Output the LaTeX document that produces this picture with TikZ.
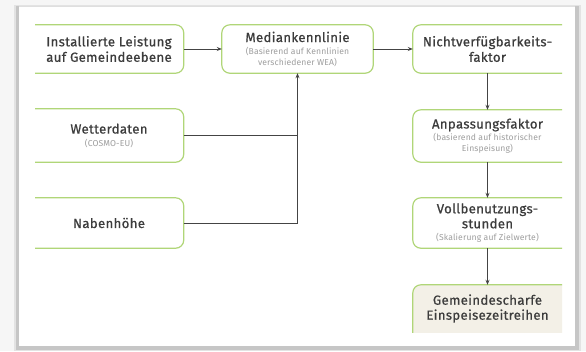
\documentclass[tikz,border=0pt]{standalone}
\usepackage{fontspec}
\setmainfont{Fira Sans}[LetterSpace=2.5, UprightFeatures={FakeBold=0.7}]
\newfontfamily\subfont{Fira Sans}[LetterSpace=1.5]
\usetikzlibrary{arrows.meta,calc}

\definecolor{boxgreen}{RGB}{176,214,120}
\definecolor{titletext}{RGB}{60,60,60}
\definecolor{subtext}{RGB}{158,158,158}
\definecolor{linkgray}{RGB}{68,68,68}
\definecolor{resultfill}{RGB}{243,240,231}

\newcommand\subline[1]{{\subfont\fontsize{8.6}{9}\selectfont\color{subtext}#1}}

\tikzset{
  flowbox/.style={rectangle, draw=none, inner sep=0pt, align=center,
    minimum width=149pt, text=titletext,
    font=\fontsize{13.2}{15.5}\selectfont},
  boxedge/.style={draw=boxgreen, line width=1.2pt, rounded corners=8pt},
  link/.style={draw=linkgray, line width=0.9pt,
    -{Stealth[length=5pt,width=4pt]}},
  plainlink/.style={draw=linkgray, line width=0.9pt},
}

\begin{document}
\begin{tikzpicture}[x=1pt,y=-1pt]
  \useasboundingbox (0,0) rectangle (586,351);

  % page background and framed panel with soft shadow
  \fill[gray!7] (0,0) rectangle (586,351);
  \fill[gray!22] (14,5) rectangle (581,351);
  \fill[gray!45] (16,6) rectangle (579,350);
  \fill[white] (19,6) rectangle (575,346);
  \draw[gray!25, line width=0.6pt] (19,6) -- (575,6);

  % left column
  \node[flowbox, minimum height=48pt] (inst) at (109,49)
    {Installierte Leistung\\auf Gemeindeebene};
  \node[flowbox, minimum height=53pt] (wetter) at (109,135.5)
    {Wetterdaten\\[-3pt]\subline{(COSMO-EU)}};
  \node[flowbox, minimum height=50pt] (naben) at (109,223)
    {Nabenhöhe};

  % middle
  \node[flowbox, minimum width=151pt, minimum height=48pt] (median) at (297.5,49)
    {Mediankennlinie\\[-3pt]\subline{(Basierend auf Kennlinien}\\[-5pt]\subline{verschiedener WEA)}};

  % right column
  \node[flowbox, minimum height=48pt] (nicht) at (487.5,49)
    {Nichtverfügbarkeits-\\faktor};
  \node[flowbox, minimum height=52pt] (anpass) at (487.5,136)
    {Anpassungsfaktor\\[-3.5pt]\subline{(basierend auf historischer}\\[-4.5pt]\subline{Einspeisung)}};
  \node[flowbox, minimum height=50pt] (vollb) at (487.5,223)
    {Vollbenutzungs-\\[-0.5pt]stunden\\[-3pt]\subline{(Skalierung auf Zielwerte)}};
  \node[flowbox, minimum height=47pt] (gemeinde) at (487.5,308.5)
    {\phantom{Gemeindescharfe}};

  % box outlines, cut off at the panel's inner margins
  \begin{scope}
    \clip (35,0) rectangle (562,332);
    \draw[boxedge] ([xshift=-14pt]inst.north west) rectangle (inst.south east);
    \draw[boxedge] ([xshift=-14pt]wetter.north west) rectangle (wetter.south east);
    \draw[boxedge] ([xshift=-14pt]naben.north west) rectangle (naben.south east);
    \draw[boxedge] (median.north west) rectangle (median.south east);
    \draw[boxedge] (nicht.north west) rectangle ([xshift=14pt]nicht.south east);
    \draw[boxedge] (anpass.north west) rectangle ([xshift=14pt]anpass.south east);
    \draw[boxedge] (vollb.north west) rectangle ([xshift=14pt]vollb.south east);
    \draw[boxedge, fill=resultfill] (gemeinde.north west) rectangle ([xshift=14pt,yshift=-14pt]gemeinde.south east);
  \end{scope}
  \node[flowbox, anchor=center] (gemtext) at (gemeinde.center)
    {Gemeindescharfe\\[-0.5pt]Einspeisezeitreihen};

  % connectors
  \draw[link] (inst.east) -- (median.west);
  \draw[link] (median.east) -- (nicht.west);
  \draw[plainlink] (wetter.east) -- (wetter.east -| median.south);
  \draw[link] (naben.east) -| (median.south);
  \draw[link] (nicht.south) -- (anpass.north);
  \draw[link] (anpass.south) -- (vollb.north);
  \draw[link] (vollb.south) -- (gemeinde.north);
\end{tikzpicture}
\end{document}
